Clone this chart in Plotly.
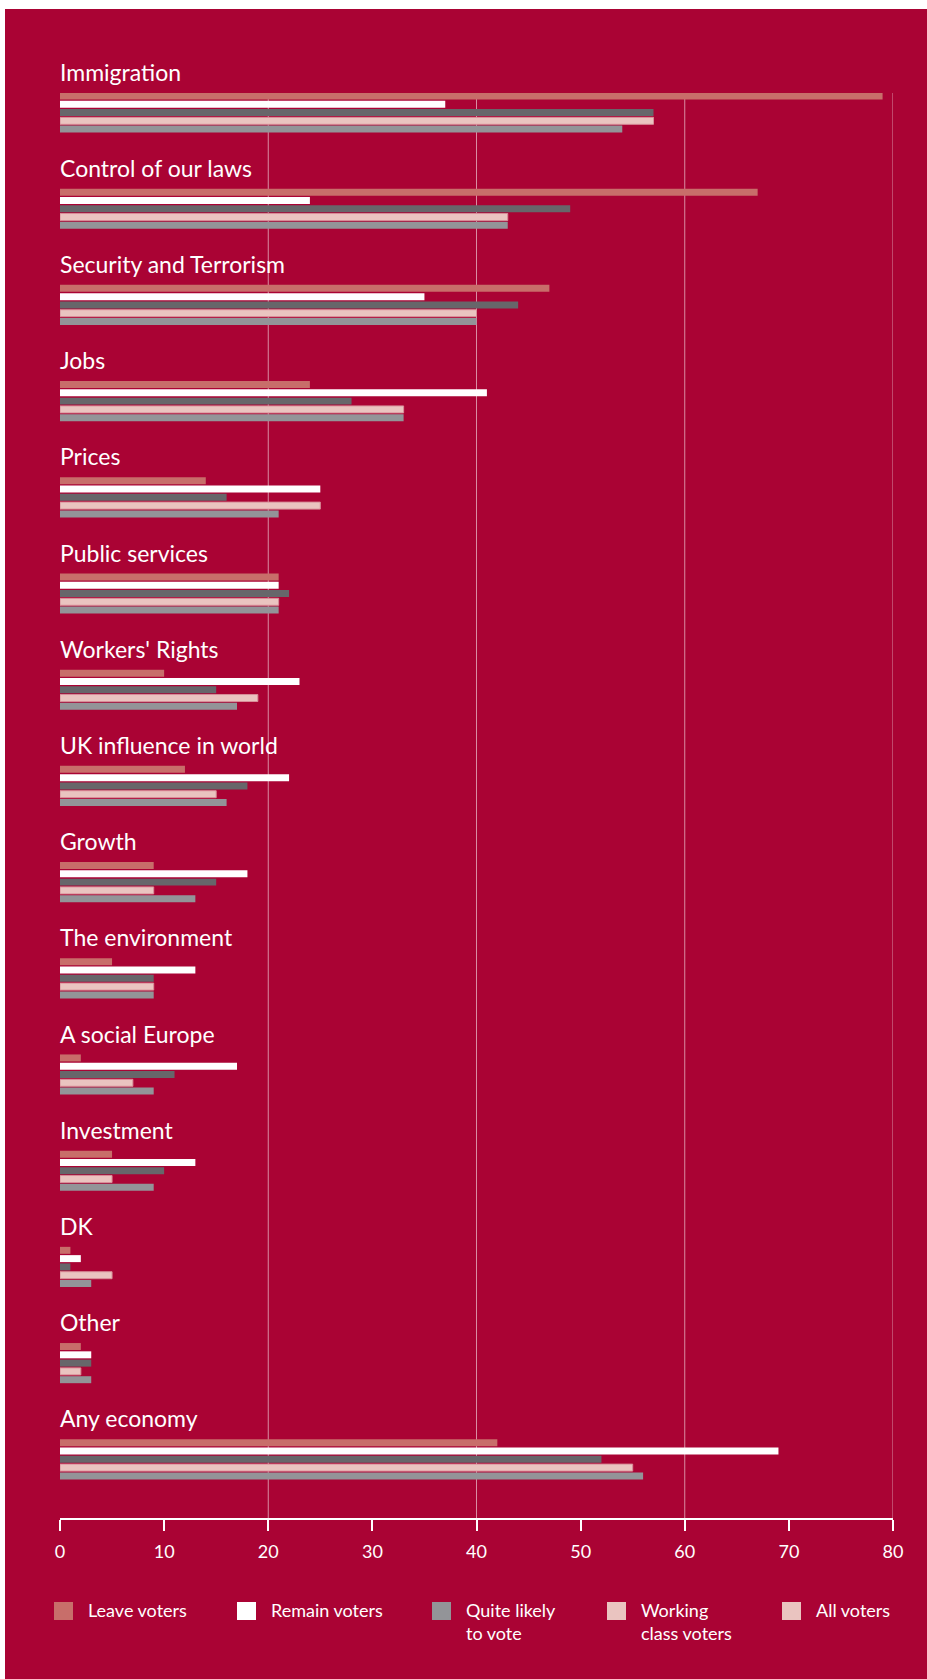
import plotly.graph_objects as go

# ---------------- data ----------------
categories = [
    "Immigration", "Control of our laws", "Security and Terrorism", "Jobs", "Prices",
    "Public services", "Workers' Rights", "UK influence in world", "Growth",
    "The environment", "A social Europe", "Investment", "DK", "Other", "Any economy",
]
leave_voters = [79, 67, 47, 24, 14, 21, 10, 12, 9, 5, 2, 5, 1, 2, 42]
remain_voters = [37, 24, 35, 41, 25, 21, 23, 22, 18, 13, 17, 13, 2, 3, 69]
quite_likely = [57, 49, 44, 28, 16, 22, 15, 18, 15, 9, 11, 10, 1, 3, 52]
working_class = [57, 43, 40, 33, 25, 21, 19, 15, 9, 9, 7, 5, 5, 2, 55]
all_voters = [54, 43, 40, 33, 21, 21, 17, 16, 13, 9, 9, 9, 3, 3, 56]

series_names = ["Leave voters", "Remain voters", "Quite likely to vote",
                "Working class voters", "All voters"]
x_ticks = [0, 10, 20, 30, 40, 50, 60, 70, 80]
grid_vals = [20, 40, 60, 80]
legend_labels = ["Leave voters", "Remain voters", "Quite likely<br>to vote",
                 "Working<br>class voters", "All voters"]

# ---------------- style ----------------
BG = "#AA0334"
C_LEAVE = "#C86E6A"
C_REMAIN = "#FFFFFF"
C_QUITE = "#67666A"
C_WORK = "#EAC4C0"
C_ALL = "#939498"
legend_colors = [C_LEAVE, C_REMAIN, C_ALL, C_WORK, C_WORK]
FONT = "Lato"

W, H = 927, 1679
ML, MR, MT, MB = 60, 34, 93, 161
PW, PH = W - ML - MR, H - MT - MB


def px_x(px):
    return (px - ML) / PW


def px_y(py):
    return (H - MB - py) / PH


fig = go.Figure()
series = [leave_voters, remain_voters, quite_likely, working_class, all_voters]
colors = [C_LEAVE, C_REMAIN, C_QUITE, C_WORK, C_ALL]
for name, vals, col in zip(series_names, series, colors):
    line = dict(width=1, color="#D88E98") if col == C_WORK else dict(width=0)
    fig.add_trace(go.Bar(
        y=categories, x=vals, name=name, orientation="h",
        marker=dict(color=col, line=line), showlegend=False,
        hovertemplate="%{y}<br>" + name + ": %{x}<extra></extra>",
    ))

shapes = [dict(type="rect", xref="paper", yref="paper",
               x0=px_x(5), x1=px_x(W + 2), y0=px_y(H + 2), y1=px_y(9),
               fillcolor=BG, line=dict(width=0), layer="below")]
for g in grid_vals:
    shapes.append(dict(type="line", xref="x", yref="paper", x0=g, x1=g, y0=0, y1=1,
                       line=dict(color="rgba(255,255,255,0.55)", width=1), layer="below"))

annotations = []
for c in categories:
    annotations.append(dict(
        x=0, y=c, xref="x", yref="y", text=c, showarrow=False,
        xanchor="left", yanchor="middle", xshift=-2, yshift=41,
        font=dict(family=FONT, size=23, color="white"),
    ))

# legend (drawn as in the reference)
sq_left = [54, 237, 432, 607, 782]
for lx, lab, col in zip(sq_left, legend_labels, legend_colors):
    shapes.append(dict(type="rect", xref="paper", yref="paper",
                       x0=px_x(lx), x1=px_x(lx + 19), y0=px_y(1620), y1=px_y(1602),
                       fillcolor=col, line=dict(width=0)))
    annotations.append(dict(
        x=px_x(lx + 32), y=px_y(1597), xref="paper", yref="paper", text=lab,
        showarrow=False, xanchor="left", yanchor="top", align="left",
        font=dict(family=FONT, size=18, color="white"),
    ))

fig.update_layout(
    width=W, height=H,
    margin=dict(l=ML, r=MR, t=MT, b=MB, pad=0),
    paper_bgcolor="white", plot_bgcolor="rgba(0,0,0,0)",
    barmode="group", bargap=0.569, bargroupgap=0.157,
    font=dict(family=FONT, color="white"),
    shapes=shapes, annotations=annotations,
    xaxis=dict(range=[0, 80], tickvals=x_ticks, showgrid=False, zeroline=False,
               showline=True, linecolor="white", linewidth=2,
               ticks="outside", ticklen=11, tickwidth=2, tickcolor="white",
               tickfont=dict(family=FONT, size=18, color="white"),
               ticklabelstandoff=5, fixedrange=True),
    yaxis=dict(type="category", categoryorder="array", categoryarray=categories,
               range=[14.61, -0.203], showticklabels=False, showgrid=False,
               zeroline=False, showline=False, ticks="", fixedrange=True),
    showlegend=False,
)

fig.write_html(
    "out.html",
    include_plotlyjs=True,
    config={"displayModeBar": False},
    post_script="document.body.style.margin='0';document.body.style.overflow='hidden';"
                "document.documentElement.style.overflow='hidden';",
)
